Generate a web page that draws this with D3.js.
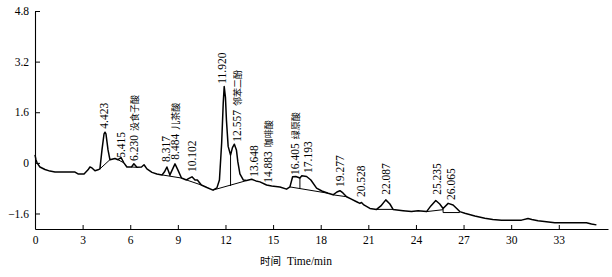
<!DOCTYPE html>
<html>
<head>
<meta charset="utf-8">
<script src="https://cdn.jsdelivr.net/npm/d3@7"></script>
<style>
  body { margin: 0; background: #fff; }
  svg { display: block; }
  .tick text { font-family: "Liberation Serif", "Times New Roman", serif; font-size: 11.5px; }
</style>
</head>
<body>
<svg id="chart" width="612" height="277"></svg>
<script>
// chromatogram trace (time in min, signal)
const times = [0, 0.06, 0.13, 0.31, 0.63, 0.94, 1.26, 2.52, 2.71, 3.09, 3.34, 3.46, 3.59, 3.78, 3.97, 4.09,
    4.22, 4.35, 4.41, 4.47, 4.6, 4.72, 5.04, 5.23, 5.42, 5.6, 5.79, 6.08, 6.23, 6.42, 6.71, 6.87, 7.05, 7.37,
    7.68, 8.0, 8.15, 8.31, 8.5, 8.82, 9.0, 9.23, 9.54, 9.7, 9.89, 10.08, 10.23, 10.48, 10.83, 11.21, 11.46,
    11.62, 11.76, 11.86, 11.92, 12.0, 12.06, 12.17, 12.32, 12.44, 12.56, 12.69, 12.78, 12.91, 13.12, 13.33,
    13.65, 13.92, 14.17, 14.59, 14.91, 15.43, 15.85, 16.06, 16.23, 16.43, 16.69, 16.81, 17.11, 17.38, 17.74,
    18.07, 18.47, 18.78, 19.02, 19.21, 19.4, 19.63, 19.9, 20.26, 20.47, 20.57, 20.72, 21.1, 21.52, 21.79,
    22.1, 22.36, 22.56, 23.19, 23.72, 24.14, 24.31, 24.67, 24.94, 25.25, 25.5, 25.71, 26.03, 26.34, 26.57,
    26.76, 27.08, 27.71, 28.34, 28.84, 29.39, 30.65, 31.06, 31.3, 31.69, 32.75, 34.0, 34.74, 35.06, 35.37];
const signal = [0.25, 0.10, 0, -0.13, -0.21, -0.26, -0.29, -0.29, -0.35, -0.35, -0.22, -0.13, -0.16, -0.25, -0.22, -0.19,
    0.41, 0.92, 0.97, 0.92, 0.41, 0.10, 0.14, 0.10, 0.17, 0, -0.13, -0.13, -0.03, -0.14, -0.13, -0.06, -0.19, -0.30,
    -0.35, -0.38, -0.29, -0.13, -0.38, -0.03, -0.22, -0.48, -0.54, -0.49, -0.44, -0.54, -0.54, -0.70, -0.78, -0.86, -0.79,
    -0.54, 0.63, 1.90, 2.41, 2.06, 1.36, 0.52, 0.25, 0.48, 0.59, 0.41, 0.03, -0.35, -0.54, -0.56,
    -0.52, -0.57, -0.60, -0.70, -0.73, -0.76, -0.83, -0.76, -0.44, -0.43, -0.48, -0.41, -0.43, -0.54, -0.80,
    -0.89, -0.96, -1.01, -0.92, -0.88, -0.95, -1.07, -1.14, -1.23, -1.28, -1.25, -1.33, -1.44, -1.47, -1.36,
    -1.17, -1.30, -1.47, -1.51, -1.54, -1.51, -1.52, -1.54, -1.36, -1.19, -1.30, -1.44, -1.28, -1.33, -1.44,
    -1.54, -1.59, -1.68, -1.75, -1.79, -1.81, -1.81, -1.76, -1.79, -1.83, -1.89, -1.89, -1.89, -1.93, -1.96];

// integration baselines drawn under the peaks: [t1, v1, t2, v2]
const baselines = [
    [4.09, -0.19, 4.72, 0.10],
    [5.23, 0.10, 5.6, 0.0],
    [6.08, -0.13, 6.42, -0.14],
    [8.0, -0.38, 9.23, -0.48],
    [8.5, -0.38, 8.5, -0.42],
    [9.54, -0.54, 10.48, -0.70],
    [11.21, -0.86, 13.33, -0.56],
    [12.32, 0.25, 12.32, -0.73],
    [16.06, -0.76, 18.47, -0.96],
    [16.69, -0.48, 16.69, -0.82],
    [18.78, -1.01, 19.63, -1.07],
    [21.52, -1.47, 22.56, -1.47],
    [24.67, -1.54, 25.71, -1.48],
    [25.71, -1.44, 25.71, -1.57],
    [25.71, -1.57, 26.76, -1.57]
];

// peak annotations
const peakNames = ["4.423", "5.415", "6.230", "8.317", "8.484", "10.102", "11.920", "12.557", "13.648",
    "14.883", "16.405", "17.193", "19.277", "20.528", "22.087", "25.235", "26.065"];
const peakCompounds = ["", "", "没食子酸", "", "儿茶酸", "", "", "邻苯二酚", "", "咖啡酸", "绿原酸", "", "", "", "", "", ""];
const labelTimes = [4.35, 5.42, 6.23, 8.28, 8.85, 9.89, 11.81, 12.72, 13.82, 14.70, 16.37, 17.22, 19.21,
    20.56, 22.10, 25.31, 26.20];
const labelHeights = [1.08, 0.16, 0.06, 0.03, 0.10, -0.29, 2.5, 0.67, -0.44, -0.63, -0.38, -0.32, -0.76,
    -1.08, -1.01, -1.01, -1.17];

const xTicks = [0, 3, 6, 9, 12, 15, 18, 21, 24, 27, 30, 33];
const yTicks = [-1.6, 0, 1.6, 3.2, 4.8];

const svg = d3.select("#chart");

const x = d3.scaleLinear().domain([0, 36.1]).range([35, 608]);
const y = d3.scaleLinear().domain([-2.09, 4.8]).range([229, 11]);

function drawAxes() {
    const xAxis = svg.append("g")
        .attr("transform", `translate(0,${y.range()[0]})`)
        .call(d3.axisBottom(x).tickValues(xTicks).tickFormat(d3.format("d")).tickSizeInner(-4).tickSizeOuter(0).tickPadding(7));
    xAxis.select(".domain").attr("stroke-width", 1.1);

    const yAxis = svg.append("g")
        .attr("transform", `translate(${x.range()[0]},0)`)
        .call(d3.axisLeft(y).tickValues(yTicks).tickFormat(d => d === 0 ? "0" : d3.format(".1f")(d).replace("-", "\u2212"))
            .tickSizeInner(-5).tickSizeOuter(0).tickPadding(6));
    yAxis.select(".domain").attr("stroke-width", 1.1);

    svg.append("text")
        .attr("x", 296)
        .attr("y", 265)
        .attr("text-anchor", "middle")
        .style("font-family", "'Liberation Serif', serif")
        .style("font-size", "11.5px")
        .call(t => {
            t.append("tspan").style("font-family", "'Noto Sans CJK SC'").style("font-size", "10.5px").text("时间");
            t.append("tspan").attr("dx", 6).text("Time/min");
        });
}

function drawTrace() {
    const points = times.map((t, i) => [t, signal[i]]);
    const line = d3.line().x(d => x(d[0])).y(d => y(d[1]));

    svg.append("path")
        .datum(points)
        .attr("fill", "none")
        .attr("stroke", "#000")
        .attr("stroke-width", 1.5)
        .attr("stroke-linejoin", "round")
        .attr("d", line);

    svg.append("g")
        .selectAll("line")
        .data(baselines)
        .enter()
        .append("line")
        .attr("x1", d => x(d[0]))
        .attr("y1", d => y(d[1]))
        .attr("x2", d => x(d[2]))
        .attr("y2", d => y(d[3]))
        .attr("stroke", "#000")
        .attr("stroke-width", 1);
}

function drawLabels() {
    const labels = svg.append("g")
        .selectAll("text")
        .data(peakNames)
        .enter()
        .append("text")
        .attr("transform", (d, i) => `translate(${x(labelTimes[i])},${y(labelHeights[i])}) rotate(-90)`)
        .attr("dominant-baseline", "central")
        .style("font-family", "'Liberation Serif', serif")
        .style("font-size", "11.5px");

    labels.append("tspan").text(d => d);
    labels.filter((d, i) => peakCompounds[i] !== "")
        .append("tspan")
        .attr("dx", 4)
        .style("font-family", "'Noto Sans CJK SC'")
        .style("font-size", "9px")
        .text((d, i) => peakCompounds[peakNames.indexOf(d)]);
}

drawAxes();
drawTrace();
drawLabels();
</script>
</body>
</html>
